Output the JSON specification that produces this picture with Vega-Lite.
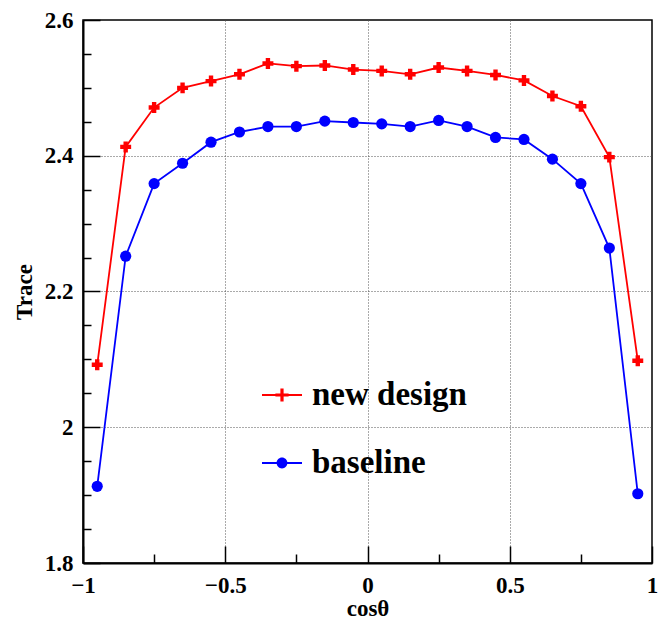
{
  "$schema": "https://vega.github.io/schema/vega-lite/v6.json",
  "width": 569,
  "height": 543,
  "autosize": {"type": "none"},
  "padding": {"left": 83, "top": 20, "right": 7, "bottom": 56},
  "background": "white",
  "config": {
    "view": {"stroke": "black", "strokeWidth": 1.5},
    "axis": {
      "labelFont": "Liberation Serif",
      "labelFontWeight": "bold",
      "labelFontSize": 23,
      "labelColor": "black",
      "titleFont": "Liberation Serif",
      "titleFontWeight": "bold",
      "titleFontSize": 23,
      "titleColor": "black",
      "domainColor": "black",
      "domainWidth": 2,
      "tickColor": "black",
      "tickWidth": 1.5,
      "gridColor": "#555555",
      "gridDash": [1, 2],
      "gridWidth": 1,
      "labelFlush": false,
      "labelOverlap": false
    }
  },
  "data": {
    "values": [
      {"x": -0.95, "y": 2.092, "series": "new design"},
      {"x": -0.85, "y": 2.413, "series": "new design"},
      {"x": -0.75, "y": 2.471, "series": "new design"},
      {"x": -0.65, "y": 2.500, "series": "new design"},
      {"x": -0.55, "y": 2.510, "series": "new design"},
      {"x": -0.45, "y": 2.520, "series": "new design"},
      {"x": -0.35, "y": 2.536, "series": "new design"},
      {"x": -0.25, "y": 2.532, "series": "new design"},
      {"x": -0.15, "y": 2.533, "series": "new design"},
      {"x": -0.05, "y": 2.527, "series": "new design"},
      {"x": 0.05, "y": 2.525, "series": "new design"},
      {"x": 0.15, "y": 2.520, "series": "new design"},
      {"x": 0.25, "y": 2.530, "series": "new design"},
      {"x": 0.35, "y": 2.525, "series": "new design"},
      {"x": 0.45, "y": 2.519, "series": "new design"},
      {"x": 0.55, "y": 2.511, "series": "new design"},
      {"x": 0.65, "y": 2.488, "series": "new design"},
      {"x": 0.75, "y": 2.473, "series": "new design"},
      {"x": 0.85, "y": 2.398, "series": "new design"},
      {"x": 0.95, "y": 2.098, "series": "new design"},
      {"x": -0.95, "y": 1.913, "series": "baseline"},
      {"x": -0.85, "y": 2.252, "series": "baseline"},
      {"x": -0.75, "y": 2.359, "series": "baseline"},
      {"x": -0.65, "y": 2.389, "series": "baseline"},
      {"x": -0.55, "y": 2.420, "series": "baseline"},
      {"x": -0.45, "y": 2.435, "series": "baseline"},
      {"x": -0.35, "y": 2.443, "series": "baseline"},
      {"x": -0.25, "y": 2.443, "series": "baseline"},
      {"x": -0.15, "y": 2.451, "series": "baseline"},
      {"x": -0.05, "y": 2.449, "series": "baseline"},
      {"x": 0.05, "y": 2.447, "series": "baseline"},
      {"x": 0.15, "y": 2.443, "series": "baseline"},
      {"x": 0.25, "y": 2.452, "series": "baseline"},
      {"x": 0.35, "y": 2.443, "series": "baseline"},
      {"x": 0.45, "y": 2.427, "series": "baseline"},
      {"x": 0.55, "y": 2.424, "series": "baseline"},
      {"x": 0.65, "y": 2.395, "series": "baseline"},
      {"x": 0.75, "y": 2.359, "series": "baseline"},
      {"x": 0.85, "y": 2.264, "series": "baseline"},
      {"x": 0.95, "y": 1.902, "series": "baseline"}
    ]
  },
  "encoding": {
    "x": {
      "field": "x",
      "type": "quantitative",
      "scale": {"domain": [-1, 1], "nice": false, "zero": false},
      "axis": {
        "title": "cosθ",
        "titlePadding": -8,
        "values": [-1, -0.75, -0.5, -0.25, 0, 0.25, 0.5, 0.75, 1],
        "labelExpr": "abs(datum.value*2 - round(datum.value*2)) < 0.001 ? format(datum.value, '~g') : ''",
        "tickSize": {"condition": {"test": "abs(datum.value*2 - round(datum.value*2)) < 0.001", "value": -17}, "value": -9},
        "labelPadding": 28,
        "grid": true,
        "gridOpacity": {"condition": {"test": "abs(datum.value*2 - round(datum.value*2)) < 0.001 && abs(datum.value) < 0.99", "value": 1}, "value": 0}
      }
    },
    "y": {
      "field": "y",
      "type": "quantitative",
      "scale": {"domain": [1.8, 2.6], "nice": false, "zero": false},
      "axis": {
        "title": "Trace",
        "titlePadding": 8,
        "values": [1.8, 1.85, 1.9, 1.95, 2.0, 2.05, 2.1, 2.15, 2.2, 2.25, 2.3, 2.35, 2.4, 2.45, 2.5, 2.55, 2.6],
        "labelExpr": "abs(datum.value*5 - round(datum.value*5)) < 0.001 ? format(datum.value, '~g') : ''",
        "tickSize": {"condition": {"test": "abs(datum.value*5 - round(datum.value*5)) < 0.001", "value": -17}, "value": -8},
        "labelPadding": 27,
        "grid": true,
        "gridOpacity": {"condition": {"test": "abs(datum.value*5 - round(datum.value*5)) < 0.001 && datum.value > 1.81 && datum.value < 2.59", "value": 1}, "value": 0}
      }
    },
    "color": {
      "field": "series",
      "type": "nominal",
      "scale": {"domain": ["new design", "baseline"], "range": ["#ff0000", "#0000ff"]},
      "legend": {
        "orient": "none",
        "legendX": 179,
        "legendY": 355,
        "title": null,
        "padding": 0,
        "labelFont": "Liberation Serif",
        "labelFontWeight": "bold",
        "labelFontSize": 33,
        "labelColor": "black",
        "labelOffset": 10,
        "symbolSize": 1600,
        "rowPadding": 31,
        "labelLimit": 400,
        "encode": {
          "symbols": {
            "update": {
              "shape": {"signal": "datum.value === 'new design' ? 'M-1,-0.05H1V0.05H-1ZM-0.08,-0.33H0.08V-0.08H0.33V0.08H0.08V0.33H-0.08V0.08H-0.33V-0.08H-0.08Z' : 'M-1,-0.05H1V0.05H-1ZM-0.27,0A0.27,0.27,0,1,1,0.27,0A0.27,0.27,0,1,1,-0.27,0Z'"},
              "fill": {"scale": "color", "field": "value"},
              "fillOpacity": {"value": 1},
              "stroke": {"value": "transparent"},
              "strokeWidth": {"value": 0},
              "opacity": {"value": 1}
            }
          }
        }
      }
    }
  },
  "layer": [
    {
      "mark": {"type": "line", "strokeWidth": 1.8}
    },
    {
      "transform": [{"filter": "datum.series === 'new design'"}],
      "mark": {"type": "point", "shape": "cross", "filled": true, "opacity": 1, "size": 120}
    },
    {
      "transform": [{"filter": "datum.series === 'baseline'"}],
      "mark": {"type": "point", "shape": "circle", "filled": true, "opacity": 1, "size": 125}
    }
  ]
}
